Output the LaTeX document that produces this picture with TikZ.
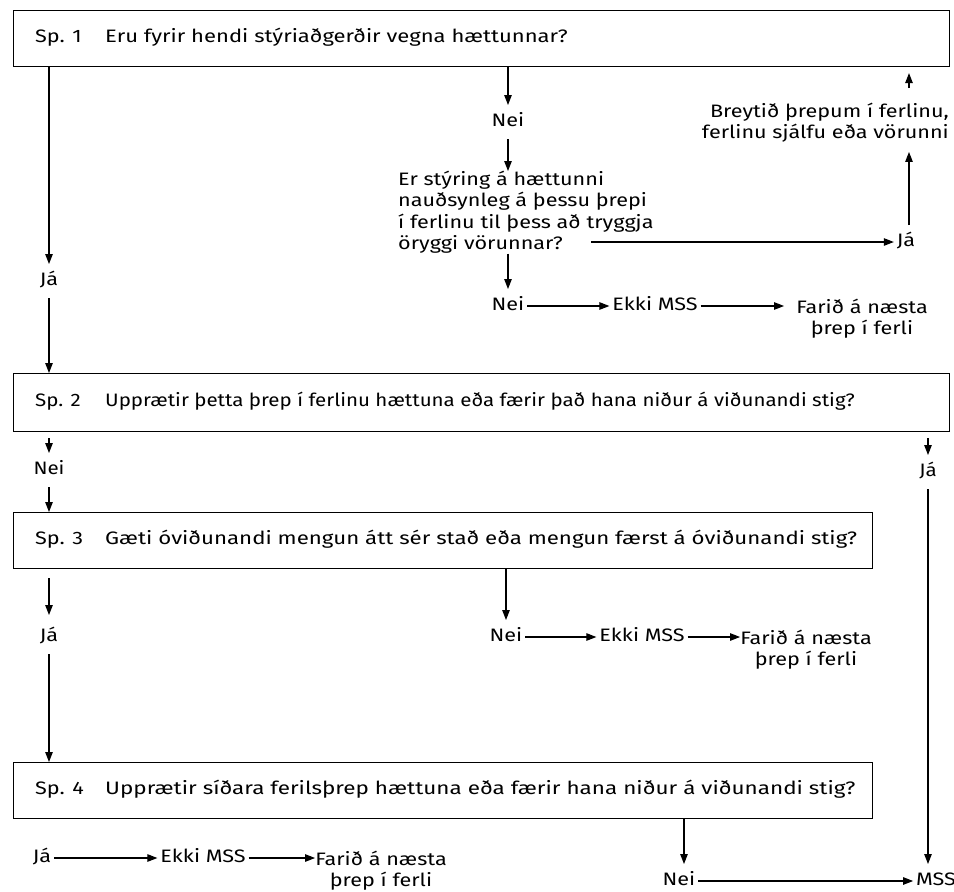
\documentclass[tikz,border=0pt]{standalone}
\usepackage{fontspec}
\setmainfont[FakeStretch=1.2]{Fira Sans}
\usetikzlibrary{arrows.meta}
\begin{document}
\begin{tikzpicture}[x=1pt,y=-1pt,
  font=\fontsize{18}{21.3}\selectfont,
  box/.style={draw,line width=1.1pt,anchor=north west,inner sep=0pt},
  txt/.style={inner sep=0pt,text height=12.5pt,text depth=3.5pt},
  lbl/.style={txt,outer xsep=3pt,outer ysep=9pt},
  ml/.style={inner sep=0pt,align=#1},
  arr/.style={line width=1.1pt,-{Triangle[length=10pt,width=7.5pt]}},
  ln/.style={line width=1.1pt}]
\useasboundingbox (0,0) rectangle (954,892);
% boxes
\node[box,minimum width=936pt,minimum height=56pt] (b1) at (13,10) {};
\node[box,minimum width=936pt,minimum height=58pt] (b2) at (13,373) {};
\node[box,minimum width=859pt,minimum height=56pt] (b3) at (13,512) {};
\node[box,minimum width=859pt,minimum height=56pt] (b4) at (13,762) {};
\node[txt,anchor=west] (s1) at (35,38) {Sp. 1};
\node[txt,anchor=west] (t1) at (105,38) {\scalebox{1.02}[1]{Eru fyrir hendi stýriaðgerðir vegna hættunnar?}};
\node[txt,anchor=west] (s2) at (35,402) {\scalebox{0.95}[1]{Sp. 2}};
\node[txt,anchor=west] (t2) at (105,402) {\scalebox{0.95}[1]{Upprætir þetta þrep í ferlinu hættuna eða færir það hana niður á viðunandi stig?}};
\node[txt,anchor=west] (s3) at (35,540) {Sp. 3};
\node[txt,anchor=west] (t3) at (105,540) {\scalebox{1.03}[1]{Gæti óviðunandi mengun átt sér stað eða mengun færst á óviðunandi stig?}};
\node[txt,anchor=west] (s4) at (35,790) {Sp. 4};
\node[txt,anchor=west] (t4) at (105,790) {\scalebox{1.04}[1]{Upprætir síðara ferilsþrep hættuna eða færir hana niður á viðunandi stig?}};

% left column
\node[lbl] (ja1) at (49,281) {Já};
\draw[arr] (b1.south -| ja1) -- (ja1);
\draw[arr] (ja1) -- (b2.north -| ja1);
\node[lbl] (nei3) at (49,470) {\scalebox{0.95}[1]{Nei}};
\draw[arr,shorten <=6pt] (b2.south -| nei3) -- (nei3);
\draw[arr] (nei3) -- (b3.north -| nei3);
\node[lbl] (ja4) at (49,637) {Já};
\draw[arr,shorten <=9pt,shorten >=5pt] (b3.south -| ja4) -- (ja4);
\draw[arr] (ja4) -- (b4.north -| ja4);

% middle of Sp. 1
\node[lbl] (nei1) at (508,122) {Nei};
\draw[arr] (b1.south -| nei1) -- (nei1);
\node[ml=left,anchor=north west] (q) at (398,171) {Er stýring á hættunni\\nauðsynleg á þessu þrepi\\í ferlinu til þess að tryggja\\öryggi vörunnar?};
\draw[arr] (nei1) -- (q.north -| nei1);
\coordinate (qe) at (591,242);
\node[lbl] (ja2) at (906,242) {Já};
\draw[arr] (qe) -- (ja2);
\node[ml=right,anchor=north east] (br) at (949,103) {Breytið þrepum í ferlinu,\\ferlinu sjálfu eða vörunni};
\draw[arr,shorten >=9pt] ([xshift=3pt]ja2.north) -- ([xshift=3pt]ja2.north |- br.south);
\draw[arr,shorten <=15pt,shorten >=6pt] ([xshift=3pt]ja2.north |- br.north) -- ([xshift=3pt]ja2.north |- b1.south);
\node[lbl] (nei2) at (508,306) {Nei};
\draw[arr] (q.south -| nei2) -- (nei2);
\node[lbl] (ek1) at (655,306) {Ekki MSS};
\draw[arr] (nei2) -- (ek1);
\node[ml=center,anchor=north] (f1) at (862,299) {Farið á næsta\\þrep í ferli};
\draw[arr,shorten >=12pt] (ek1) -- (ek1 -| f1.west);

% Sp. 2 right
\node[lbl] (ja3) at (928,472) {\scalebox{0.95}[1]{Já}};
\draw[arr,shorten <=6pt] (b2.south -| ja3) -- (ja3);
\node[lbl] (mss) at (936,881) {MSS};
\draw[arr] (ja3) -- (ja3 |- mss.north);

% Sp. 3 middle
\node[lbl] (nei5) at (506,637) {Nei};
\draw[arr] (b3.south -| nei5) -- (nei5);
\node[lbl] (ek2) at (642,637) {Ekki MSS};
\draw[arr] (nei5) -- (ek2);
\node[ml=center,anchor=north] (f2) at (806,630) {Farið á næsta\\þrep í ferli};
\draw[arr] (ek2) -- (ek2 -| f2.west);

% Sp. 4
\node[lbl] (ja5) at (42,858) {Já};
\node[lbl] (ek3) at (203,858) {Ekki MSS};
\draw[arr] (ja5) -- (ek3);
\node[ml=center,anchor=north] (f3) at (381,851) {Farið á næsta\\þrep í ferli};
\draw[arr] (ek3) -- (ek3 -| f3.west);
\node[lbl] (nei6) at (679,881) {Nei};
\draw[arr] ([xshift=5pt]b4.south -| nei6) -- ([xshift=5pt]nei6.north);
\draw[arr] (nei6) -- (mss);
\end{tikzpicture}
\end{document}
